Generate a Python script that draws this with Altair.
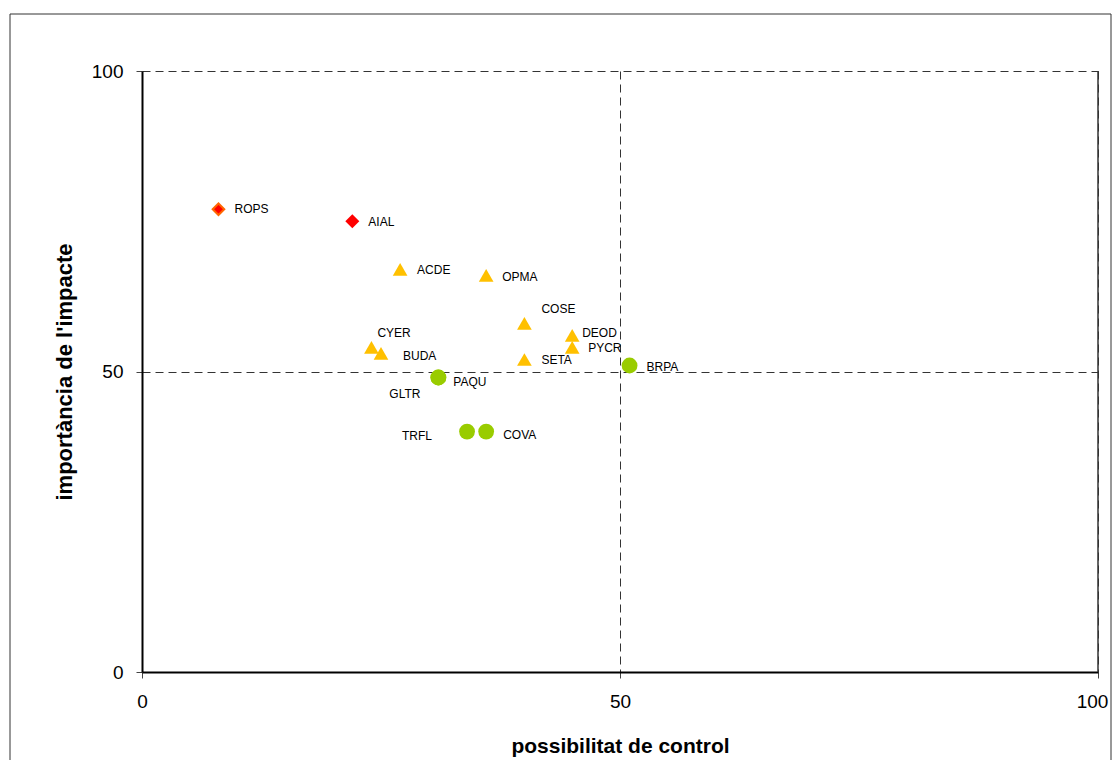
import altair as alt
import pandas as pd

# ---- data ----
noms = ["ROPS", "AIAL", "ACDE", "OPMA", "COSE", "DEOD", "PYCR", "SETA",
        "CYER", "BUDA", "PAQU", "GLTR", "TRFL", "COVA", "BRPA"]
control = [8, 22, 27, 36, 40, 45, 45, 40, 24, 25, 31, 31, 34, 36, 51]
impacte = [77, 75, 67, 66, 58, 56, 54, 52, 54, 53, 49, 49, 40, 40, 51]
grup = ["rops", "diamant", "triangle", "triangle", "triangle", "triangle",
        "triangle", "triangle", "triangle", "triangle", "cercle", "cercle",
        "cercle", "cercle", "cercle"]
ticks = [0, 50, 100]

df = pd.DataFrame({"nom": noms, "x": control, "y": impacte, "grup": grup})

# label placement (styling: pixel offsets from the marker)
label_style = {
    "ROPS": (16, 0, "left"), "AIAL": (16, 1, "left"), "ACDE": (17, 1, "left"),
    "OPMA": (16, 2, "left"), "COSE": (17, -14, "left"), "DEOD": (10, -2, "left"),
    "PYCR": (16, 1, "left"), "SETA": (17, 1, "left"), "CYER": (6, -14, "left"),
    "BUDA": (22, 3, "left"), "PAQU": (15, 4, "left"), "GLTR": (-49, 16, "left"),
    "TRFL": (-35, 4, "right"), "COVA": (17, 3, "left"), "BRPA": (17, 2, "left"),
}

FONT = "Liberation Sans"
W, H = 956, 601
PAD = {"left": 134, "top": 63, "right": 14, "bottom": 88}

xs = alt.Scale(domain=[0, 100], nice=False, zero=True)
ys = alt.Scale(domain=[0, 100], nice=False, zero=True)

xenc = alt.X("x:Q", scale=xs, axis=alt.Axis(
    title="possibilitat de control", values=ticks, grid=True, gridDash=[8, 5],
    gridColor="#333333", gridWidth=1, domainColor="black", domainWidth=2,
    tickColor="#444444", tickSize=6, labelFontSize=19, labelFont=FONT,
    labelColor="black", labelPadding=14, labelFlush=False,
    labelOffset={"condition": {"test": "datum.value == 100", "value": -6}, "value": 0},
    titleFont=FONT, titleFontSize=21, titleFontWeight="bold", titleColor="black",
    titlePadding=24))
yenc = alt.Y("y:Q", scale=ys, axis=alt.Axis(
    title="importància de l'impacte", values=ticks, grid=True, gridDash=[8, 5],
    gridColor="#333333", gridWidth=1, domainColor="black", domainWidth=2,
    tickColor="#444444", tickSize=6, labelFontSize=19, labelFont=FONT,
    labelColor="black", labelPadding=13, labelFlush=False,
    titleFont=FONT, titleFontSize=22, titleFontWeight="bold", titleColor="black",
    titlePadding=15))

base = alt.Chart(df)

frame = alt.Chart(alt.Data(values=[{}])).mark_rect(
    fillOpacity=0, stroke="#333333", strokeWidth=1
).encode(x=alt.value(-132), x2=alt.value(W + PAD["right"] - 1),
         y=alt.value(-57), y2=alt.value(730))

right_edge = alt.Chart(pd.DataFrame({"x": [100]})).mark_rule(
    color="#333333", strokeWidth=1.5
).encode(x=alt.X("x:Q", scale=xs))

triangles = base.transform_filter(alt.datum.grup == "triangle").mark_point(
    shape="triangle-up", filled=True, fill="#FFC000", size=215, opacity=1
).encode(x=xenc, y=yenc)

circles = base.transform_filter(alt.datum.grup == "cercle").mark_point(
    shape="circle", filled=True, fill="#99CC00", size=250, opacity=1
).encode(x=xenc, y=yenc)

diamond = base.transform_filter(alt.datum.grup == "diamant").mark_point(
    shape="diamond", filled=True, fill="#FF0000", size=196, opacity=1
).encode(x=xenc, y=yenc)

rops = base.transform_filter(alt.datum.grup == "rops").mark_point(
    shape="diamond", filled=True, fill="#FF0000", stroke="#FF6600",
    strokeWidth=2, size=135, opacity=1
).encode(x=xenc, y=yenc)

labels = []
for n in noms:
    dx, dy, al = label_style[n]
    labels.append(
        base.transform_filter(alt.datum.nom == n).mark_text(
            dx=dx, dy=dy, align=al, baseline="middle", font=FONT,
            fontSize=12, color="black"
        ).encode(x=alt.X("x:Q", scale=xs), y=alt.Y("y:Q", scale=ys), text="nom:N")
    )

chart = alt.layer(frame, right_edge, triangles, circles, diamond, rops, *labels).properties(
    width=W, height=H,
    autosize=alt.AutoSizeParams(type="none"),
    padding=PAD,
    background="white",
).configure_view(stroke=None)

chart.save("out.html", embed_options={"renderer": "svg", "actions": False})
